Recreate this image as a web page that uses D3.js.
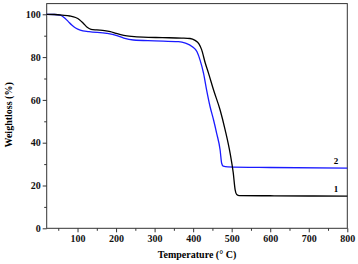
<!DOCTYPE html>
<html>
<head>
<meta charset="utf-8">
<script src="https://cdn.jsdelivr.net/npm/d3@7"></script>
<style>
  body { margin: 0; background: #fff; }
  svg text { font-family: "Liberation Serif", "Times New Roman", serif; font-weight: bold; }
  .axis path, .axis line { stroke: #333; }
</style>
</head>
<body>
<div id="chart"></div>
<script>
// Sample 1 (black)
const temp1 = [20, 40, 60, 80, 95, 105, 115, 125, 135, 150, 170, 185, 200, 220, 240, 270, 320, 370, 392, 405, 415, 422, 431, 440, 453, 470, 483, 496, 504, 509, 513, 520, 600, 700, 800];
const weight1 = [100, 99.9, 99.6, 99.2, 98.5, 97.5, 95.8, 93.9, 93.0, 92.7, 92.4, 91.9, 91.1, 90.2, 89.7, 89.3, 89.1, 88.9, 88.7, 87.8, 86.2, 83.5, 77.5, 72.4, 64.6, 55.3, 46, 35, 26, 18, 15.8, 15.3, 15.2, 15.1, 15.0];

// Sample 2 (blue)
const temp2 = [20, 40, 55, 65, 75, 85, 95, 107, 130, 176, 200, 220, 245, 300, 362, 380, 397, 410, 418, 427, 435, 444, 453, 461, 470, 474, 478, 490, 600, 800];
const weight2 = [100, 99.9, 99.6, 98.5, 96.8, 95.0, 93.6, 92.6, 91.9, 91.1, 90.2, 88.9, 88.0, 87.6, 87.2, 86.5, 85, 82.5, 78.6, 72.4, 64.6, 56.8, 50.6, 44.4, 36.6, 30.4, 29, 28.7, 28.4, 28.1];

const xMajor = [100, 200, 300, 400, 500, 600, 700, 800];
const xMinor = [50, 150, 250, 350, 450, 550, 650, 750];
const yMajor = [0, 20, 40, 60, 80, 100];
const yMinor = [10, 30, 50, 70, 90];

const width = 358, height = 264;
const margin = {top: 3.6, right: 10.7, bottom: 35.7, left: 46.7};

const svg = d3.select('#chart').append('svg')
  .attr('width', width)
  .attr('height', height);

const x = d3.scaleLinear().domain([20, 800]).range([margin.left, width - margin.right]);
const y = d3.scaleLinear().domain([0, 105]).range([height - margin.bottom, margin.top]);

// minor ticks first
svg.append('g')
  .attr('class', 'axis')
  .attr('transform', `translate(0,${height - margin.bottom})`)
  .call(d3.axisBottom(x).tickValues(xMinor).tickSize(2.5).tickFormat(''))
  .call(g => g.select('.domain').remove());

svg.append('g')
  .attr('class', 'axis')
  .attr('transform', `translate(${margin.left},0)`)
  .call(d3.axisLeft(y).tickValues(yMinor).tickSize(2.5).tickFormat(''))
  .call(g => g.select('.domain').remove());

// major ticks
svg.append('g')
  .attr('class', 'axis')
  .attr('transform', `translate(0,${height - margin.bottom})`)
  .call(d3.axisBottom(x).tickValues(xMajor).tickSize(4).tickSizeOuter(0).tickPadding(3))
  .call(g => g.select('.domain').remove())
  .call(g => g.selectAll('text').attr('font-size', 10).attr('fill', '#111'));

svg.append('g')
  .attr('class', 'axis')
  .attr('transform', `translate(${margin.left},0)`)
  .call(d3.axisLeft(y).tickValues(yMajor).tickSize(4).tickSizeOuter(0).tickPadding(2))
  .call(g => g.select('.domain').remove())
  .call(g => g.selectAll('text').attr('font-size', 10).attr('fill', '#111'));

// frame
svg.append('rect')
  .attr('x', margin.left)
  .attr('y', margin.top)
  .attr('width', width - margin.left - margin.right)
  .attr('height', height - margin.top - margin.bottom)
  .attr('fill', 'none')
  .attr('stroke', '#333')
  .attr('stroke-width', 1);

const line = d3.line()
  .x(d => x(d[0]))
  .y(d => y(d[1]))
  .curve(d3.curveMonotoneX);

svg.append('path')
  .datum(d3.zip(temp2, weight2))
  .attr('d', line)
  .attr('fill', 'none')
  .attr('stroke', '#1a1aff')
  .attr('stroke-width', 1.3);

svg.append('path')
  .datum(d3.zip(temp1, weight1))
  .attr('d', line)
  .attr('fill', 'none')
  .attr('stroke', '#000')
  .attr('stroke-width', 1.3);

// series labels
svg.append('text')
  .attr('x', x(765))
  .attr('y', y(weight2[weight2.length - 1]) - 4)
  .attr('font-size', 9)
  .text('2');

svg.append('text')
  .attr('x', x(765))
  .attr('y', y(weight1[weight1.length - 1]) - 4)
  .attr('font-size', 9)
  .text('1');

// axis titles
svg.append('text')
  .attr('x', (margin.left + width - margin.right) / 2)
  .attr('y', 258)
  .attr('text-anchor', 'middle')
  .attr('font-size', 10)
  .text('Temperature (° C)');

svg.append('text')
  .attr('transform', `translate(12,${y(53)}) rotate(-90)`)
  .attr('text-anchor', 'middle')
  .attr('font-size', 10)
  .text('Weightloss (%)');
</script>
</body>
</html>
